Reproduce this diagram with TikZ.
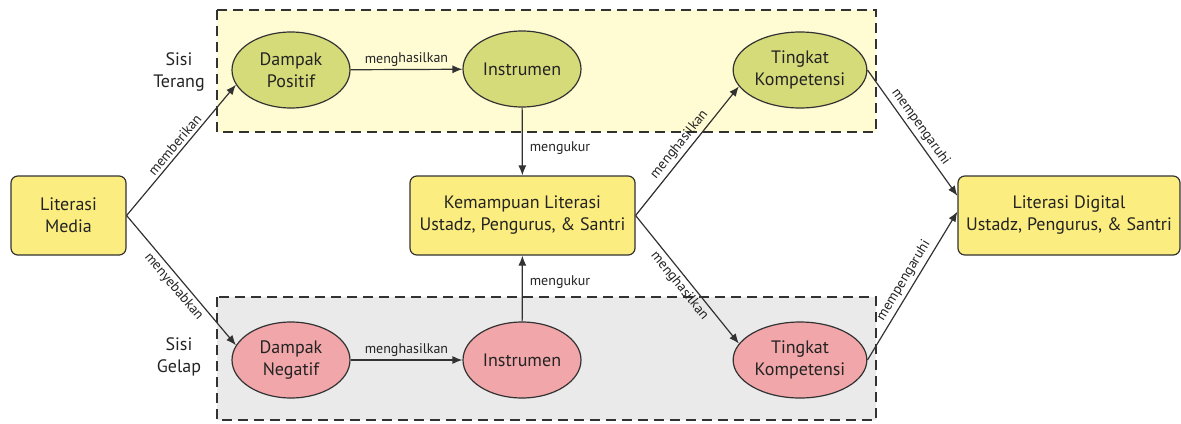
\documentclass[tikz,border=0pt]{standalone}
\usepackage{fontspec}
\setmainfont{PT Sans}
\usetikzlibrary{shapes.geometric, arrows.meta}
\tikzstyle{diagram} = [x = .5pt, y = -.5pt]
\definecolor{boxColor}{RGB}{251,237,128}
\definecolor{lightSideColor}{RGB}{255,252,212}
\definecolor{darkSideColor}{RGB}{234,234,234}
\definecolor{positiveColor}{RGB}{214,219,122}
\definecolor{negativeColor}{RGB}{241,166,169}
\definecolor{lineColor}{RGB}{50,50,50}
\definecolor{textColor}{RGB}{35,35,35}
\tikzstyle{sideStyle} = [draw=lineColor, dash pattern=on 5pt off 3pt, semithick]
\tikzstyle{sideText} = [align=center, text=textColor, font=\fontsize{9}{11}\selectfont]
\tikzstyle{boxStyle} = [draw=lineColor, fill=boxColor, rounded corners = .12cm, semithick, minimum height=39.5pt, align=center, text=textColor, font=\fontsize{9}{11}\selectfont]
\tikzstyle{ellipseStyle} = [ellipse, draw=lineColor, semithick, minimum width=59pt, minimum height=38pt, inner sep=1pt, align=center, text=textColor, font=\fontsize{9}{11}\selectfont]
\tikzstyle{linkStyle} = [draw=lineColor, line width=.6pt, -{Latex[length=5pt, width=4pt]}]
\tikzstyle{linkText} = [text=textColor, font=\fontsize{7}{8}\selectfont, inner sep=1.5pt]
\newcommand{\linkArrow}[4]{\draw [linkStyle] (#1) -- (#2) node [linkText, midway, sloped, #4] {#3};}

\begin{document}
\begin{tikzpicture}[diagram]
  \useasboundingbox (0,0) rectangle (1181,423);
  % the two sides
  \filldraw [sideStyle, fill=lightSideColor] (217,10) rectangle (876,132);
  \filldraw [sideStyle, fill=darkSideColor] (217,297) rectangle (876,420);
  \node [sideText] (sisiTerang) at (179,72) {Sisi\\Terang};
  \node [sideText] (sisiGelap) at (179,357) {Sisi\\Gelap};

  \node [boxStyle, minimum width=57.5pt] (literasiMedia) at (68.5,215.5) {Literasi\\Media};
  \node [boxStyle, minimum width=112.5pt] (kemampuan) at (522.5,215.5) {Kemampuan Literasi\\Ustadz, Pengurus, \& Santri};
  \node [boxStyle, minimum width=111pt] (literasiDigital) at (1069,215.5) {Literasi Digital\\Ustadz, Pengurus, \& Santri};

  \node [ellipseStyle, fill=positiveColor] (dampakPositif) at (291,70) {Dampak\\Positif};
  \node [ellipseStyle, fill=positiveColor] (instrumenTerang) at (522,69) {Instrumen};
  \node [ellipseStyle, fill=positiveColor] (tingkatTerang) at (800,70) {Tingkat\\Kompetensi};
  \node [ellipseStyle, fill=negativeColor] (dampakNegatif) at (291,360) {Dampak\\Negatif};
  \node [ellipseStyle, fill=negativeColor] (instrumenGelap) at (522,360) {Instrumen};
  \node [ellipseStyle, fill=negativeColor] (tingkatGelap) at (800,360) {Tingkat\\Kompetensi};

  % links
  \linkArrow{literasiMedia.east}{dampakPositif.195}{memberikan}{above}
  \linkArrow{literasiMedia.east}{dampakNegatif.165}{menyebabkan}{below}
  \linkArrow{dampakPositif}{instrumenTerang}{menghasilkan}{above}
  \linkArrow{dampakNegatif}{instrumenGelap}{menghasilkan}{above}
  \draw [linkStyle] (instrumenTerang) -- (kemampuan) node [linkText, pos=.6, right=2pt] {mengukur};
  \draw [linkStyle] (instrumenGelap) -- (kemampuan) node [linkText, pos=.6, right=2pt] {mengukur};
  \linkArrow{kemampuan.east}{tingkatTerang.195}{menghasilkan}{above}
  \linkArrow{kemampuan.east}{tingkatGelap.165}{menghasilkan}{below}
  \linkArrow{tingkatTerang.east}{literasiDigital.170}{mempengaruhi}{above}
  \linkArrow{tingkatGelap.east}{literasiDigital.178}{mempengaruhi}{above}
\end{tikzpicture}
\end{document}
